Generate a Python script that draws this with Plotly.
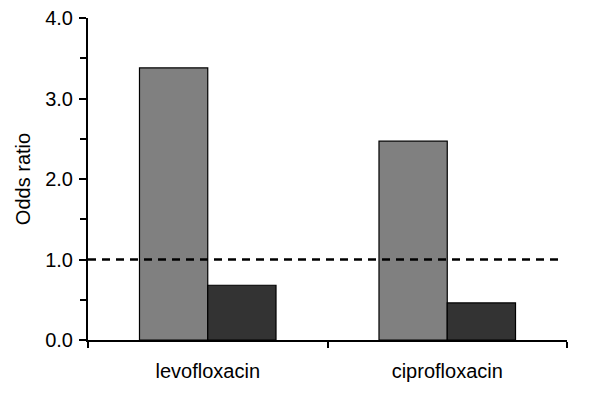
import plotly.graph_objects as go

categories = ["levofloxacin", "ciprofloxacin"]
series_a = [3.38, 2.47]
series_b = [0.68, 0.46]
y_ticks = [0, 1, 2, 3, 4]
y_tick_labels = ["0.0", "1.0", "2.0", "3.0", "4.0"]
reference_value = 1.0

fig = go.Figure()
fig.add_trace(go.Bar(x=categories, y=series_a, marker=dict(color="#808080", line=dict(color="#000000", width=1.2))))
fig.add_trace(go.Bar(x=categories, y=series_b, marker=dict(color="#333333", line=dict(color="#000000", width=1.2))))

fig.add_shape(type="line", xref="paper", yref="y", x0=0, x1=0.982, y0=reference_value, y1=reference_value,
              line=dict(color="#000000", width=2.5, dash="8px,6px"))

font_family = "Liberation Sans, Arial, sans-serif"
fig.update_layout(
    width=600, height=394,
    margin=dict(l=80, r=41, t=10, b=62, autoexpand=False),
    paper_bgcolor="white", plot_bgcolor="white",
    showlegend=False,
    barmode="group", bargap=0.43, bargroupgap=0,
    font=dict(family=font_family, size=20, color="#000000"),
    xaxis=dict(
        showline=True, linecolor="#000000", linewidth=2,
        ticks="outside", tickson="boundaries", ticklen=6, tickwidth=2, tickcolor="#000000",
        showgrid=False, zeroline=False, range=[-0.5, 1.5], automargin=False,
        ticklabelstandoff=12,
        tickfont=dict(size=20),
    ),
    yaxis=dict(
        range=[0, 4], tickvals=y_ticks, ticktext=y_tick_labels,
        showline=True, linecolor="#000000", linewidth=2,
        ticks="outside", ticklen=7, tickwidth=2, tickcolor="#000000",
        minor=dict(dtick=0.5, ticks="outside", ticklen=6, tickwidth=2, tickcolor="#000000", showgrid=False),
        showgrid=False, zeroline=False, automargin=False,
        ticklabelstandoff=2, ticklabeloverflow="allow",
        title=dict(text="Odds ratio", font=dict(size=20), standoff=9),
        tickfont=dict(size=20),
    ),
)

fig.write_html("out.html")
